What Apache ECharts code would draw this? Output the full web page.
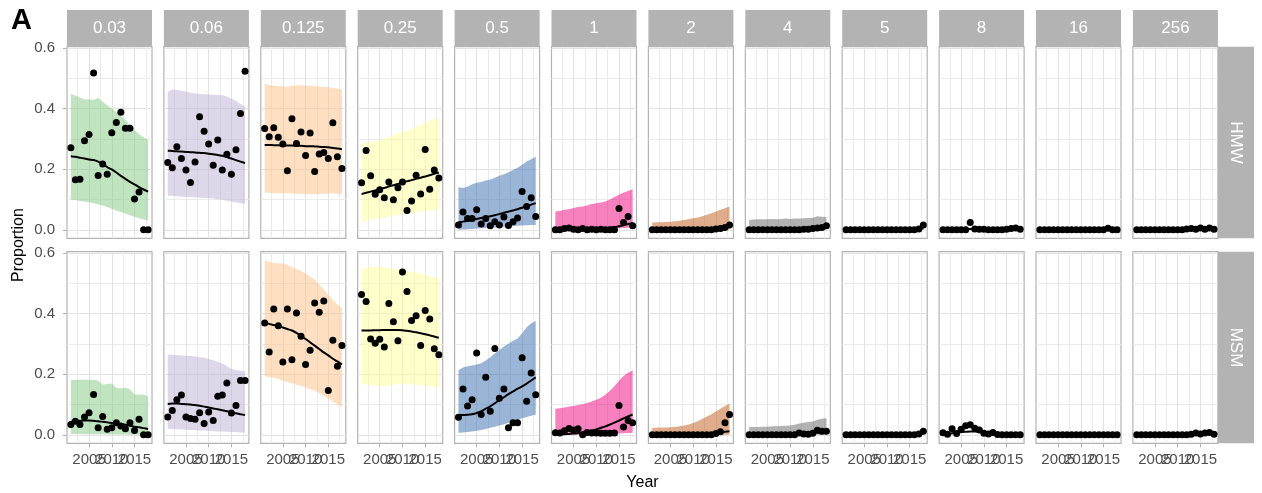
<!DOCTYPE html>
<html>
<head>
<meta charset="utf-8">
<script src="https://cdn.jsdelivr.net/npm/echarts@6/dist/echarts.min.js"></script>
<style>
  html, body { margin: 0; padding: 0; background: #ffffff; }
  #chart { width: 1262px; height: 493px; }
</style>
</head>
<body>
<div id="chart"></div>
<script>
// ---- categories and tick values ----
const YEARS = [2001, 2002, 2003, 2004, 2005, 2006, 2007, 2008, 2009, 2010, 2011, 2012, 2013, 2014, 2015, 2016, 2017, 2018];
const CONCENTRATIONS = ['0.03', '0.06', '0.125', '0.25', '0.5', '1', '2', '4', '5', '8', '16', '256'];
const GROUPS = ['HMW', 'MSM'];
const Y_TICKS = [0, 0.2, 0.4, 0.6];
const Y_MINOR = [0.1, 0.3, 0.5];
const X_TICKS = [2005, 2010, 2015];
const X_MINOR = [2002.5, 2007.5, 2012.5, 2017.5];
const RIBBON_COLORS = ['#7FC97F', '#BEAED4', '#FDC086', '#FFFF99', '#386CB0', '#F0027F', '#BF5B17', '#666666', null, null, null, null];

// ---- HMW: observed proportions, fitted trend, prediction band ----
const hmw003Pts = [0.271, 0.165, 0.167, 0.294, 0.314, 0.517, 0.179, 0.217, 0.183, 0.320, 0.354, 0.388, 0.335, 0.335, 0.102, 0.125, 0, 0];
const hmw003Fit = [0.243, 0.241, 0.238, 0.235, 0.232, 0.230, 0.225, 0.217, 0.207, 0.199, 0.189, 0.178, 0.168, 0.158, 0.150, 0.141, 0.133, 0.126];
const hmw003Lo  = [0.099, 0.098, 0.095, 0.093, 0.091, 0.088, 0.084, 0.080, 0.075, 0.069, 0.064, 0.059, 0.054, 0.048, 0.043, 0.038, 0.034, 0.030];
const hmw003Hi  = [0.448, 0.443, 0.436, 0.430, 0.431, 0.428, 0.436, 0.422, 0.411, 0.400, 0.389, 0.375, 0.362, 0.346, 0.329, 0.315, 0.305, 0.296];

const hmw006Pts = [0.222, 0.205, 0.274, 0.235, 0.197, 0.156, 0.224, 0.373, 0.325, 0.283, 0.213, 0.296, 0.197, 0.249, 0.183, 0.264, 0.384, 0.523];
const hmw006Fit = [0.261, 0.260, 0.259, 0.258, 0.257, 0.256, 0.255, 0.254, 0.253, 0.251, 0.249, 0.247, 0.244, 0.240, 0.235, 0.230, 0.225, 0.220];
const hmw006Lo  = [0.112, 0.112, 0.111, 0.110, 0.109, 0.108, 0.107, 0.106, 0.105, 0.104, 0.103, 0.101, 0.099, 0.096, 0.093, 0.090, 0.088, 0.086];
const hmw006Hi  = [0.455, 0.463, 0.461, 0.459, 0.456, 0.452, 0.450, 0.448, 0.447, 0.446, 0.445, 0.445, 0.444, 0.440, 0.432, 0.425, 0.415, 0.406];

const hmw0125Pts = [0.334, 0.307, 0.337, 0.305, 0.283, 0.195, 0.366, 0.285, 0.323, 0.245, 0.319, 0.192, 0.250, 0.255, 0.235, 0.353, 0.241, 0.202];
const hmw0125Fit = [0.280, 0.280, 0.279, 0.279, 0.278, 0.278, 0.278, 0.277, 0.277, 0.276, 0.276, 0.275, 0.274, 0.273, 0.272, 0.270, 0.268, 0.266];
const hmw0125Lo  = [0.123, 0.122, 0.121, 0.121, 0.121, 0.121, 0.120, 0.120, 0.119, 0.118, 0.117, 0.118, 0.118, 0.119, 0.120, 0.121, 0.119, 0.117];
const hmw0125Hi  = [0.483, 0.478, 0.476, 0.474, 0.473, 0.472, 0.475, 0.477, 0.477, 0.476, 0.475, 0.474, 0.473, 0.471, 0.470, 0.468, 0.466, 0.463];

const hmw025Pts = [0.155, 0.262, 0.178, 0.117, 0.132, 0.106, 0.158, 0.099, 0.139, 0.158, 0.064, 0.095, 0.180, 0.118, 0.265, 0.134, 0.197, 0.171];
const hmw025Fit = [0.118, 0.122, 0.126, 0.130, 0.134, 0.138, 0.143, 0.147, 0.151, 0.156, 0.160, 0.164, 0.168, 0.172, 0.176, 0.180, 0.185, 0.189];
const hmw025Lo  = [0.027, 0.030, 0.033, 0.036, 0.038, 0.041, 0.044, 0.046, 0.049, 0.052, 0.054, 0.056, 0.058, 0.060, 0.062, 0.064, 0.065, 0.066];
const hmw025Hi  = [0.285, 0.287, 0.290, 0.292, 0.295, 0.300, 0.305, 0.313, 0.320, 0.322, 0.326, 0.333, 0.340, 0.346, 0.352, 0.360, 0.365, 0.371];

const hmw05Pts = [0.016, 0.059, 0.037, 0.037, 0.066, 0.019, 0.037, 0.013, 0.027, 0.016, 0.042, 0.014, 0.027, 0.039, 0.126, 0.077, 0.106, 0.044];
const hmw05Fit = [0.024, 0.027, 0.030, 0.033, 0.036, 0.039, 0.042, 0.045, 0.048, 0.052, 0.056, 0.060, 0.064, 0.068, 0.073, 0.078, 0.083, 0.088];
const hmw05Lo  = [0.000, 0.001, 0.002, 0.003, 0.004, 0.005, 0.006, 0.007, 0.008, 0.009, 0.010, 0.011, 0.012, 0.013, 0.014, 0.015, 0.016, 0.016];
const hmw05Hi  = [0.140, 0.138, 0.142, 0.150, 0.155, 0.158, 0.163, 0.166, 0.172, 0.178, 0.183, 0.190, 0.197, 0.205, 0.215, 0.225, 0.233, 0.241];

const hmw1Pts = [0, 0, 0.004, 0.006, 0.002, 0, 0.004, 0, 0.002, 0, 0.002, 0, 0, 0, 0.070, 0.024, 0.044, 0.013];
const hmw1Fit = [0.002, 0.002, 0.002, 0.002, 0.002, 0.002, 0.003, 0.003, 0.004, 0.004, 0.005, 0.006, 0.007, 0.009, 0.012, 0.015, 0.019, 0.022];
const hmw1Lo  = [0, 0, 0, 0, 0, 0, 0, 0, 0.001, 0.001, 0.002, 0.002, 0.003, 0.004, 0.005, 0.006, 0.007, 0.008];
const hmw1Hi  = [0.060, 0.062, 0.066, 0.068, 0.072, 0.075, 0.077, 0.080, 0.085, 0.088, 0.090, 0.093, 0.100, 0.108, 0.116, 0.123, 0.128, 0.134];

const hmw2Pts = [0, 0, 0, 0, 0, 0, 0, 0, 0, 0, 0, 0, 0, 0, 0.003, 0.004, 0.008, 0.016];
const hmw2Fit = [0.001, 0.001, 0.001, 0.001, 0.001, 0.001, 0.001, 0.001, 0.002, 0.002, 0.002, 0.003, 0.003, 0.004, 0.005, 0.006, 0.008, 0.010];
const hmw2Lo  = [0, 0, 0, 0, 0, 0, 0, 0, 0, 0, 0, 0, 0, 0, 0, 0, 0, 0];
const hmw2Hi  = [0.024, 0.025, 0.025, 0.026, 0.027, 0.028, 0.030, 0.032, 0.035, 0.038, 0.041, 0.045, 0.050, 0.055, 0.060, 0.066, 0.071, 0.077];

const hmw4Pts = [0, 0, 0, 0, 0, 0, 0, 0, 0, 0, 0, 0, 0.002, 0.002, 0.004, 0.006, 0.008, 0.013];
const hmw4Fit = [0.002, 0.002, 0.002, 0.002, 0.002, 0.003, 0.003, 0.003, 0.003, 0.004, 0.004, 0.004, 0.005, 0.005, 0.006, 0.007, 0.008, 0.009];
const hmw4Lo  = [0, 0, 0, 0, 0, 0, 0, 0, 0, 0, 0, 0, 0, 0, 0, 0, 0, 0];
const hmw4Hi  = [0.032, 0.034, 0.035, 0.035, 0.035, 0.036, 0.035, 0.036, 0.037, 0.036, 0.037, 0.037, 0.038, 0.039, 0.040, 0.045, 0.043, 0.042];

const hmw5Pts = [0, 0, 0, 0, 0, 0, 0, 0, 0, 0, 0, 0, 0, 0, 0, 0, 0.003, 0.016];
const hmw5Fit = [0, 0, 0, 0, 0, 0, 0, 0, 0, 0, 0, 0, 0, 0, 0.001, 0.001, 0.002, 0.004];

const hmw8Pts = [0, 0, 0, 0, 0, 0, 0.024, 0.003, 0.002, 0.002, 0, 0, 0, 0, 0.002, 0.004, 0.006, 0.002];
const hmw8Fit = [0.001, 0.001, 0.002, 0.002, 0.003, 0.003, 0.003, 0.003, 0.003, 0.002, 0.002, 0.002, 0.002, 0.002, 0.002, 0.002, 0.002, 0.002];

const hmw16Pts = [0, 0, 0, 0, 0, 0, 0, 0, 0, 0, 0, 0, 0, 0, 0, 0.005, 0, 0];
const hmw16Fit = [0, 0, 0, 0, 0, 0, 0, 0, 0, 0, 0, 0, 0, 0, 0.001, 0.001, 0.001, 0.001];

const hmw256Pts = [0, 0, 0, 0, 0, 0, 0, 0, 0, 0, 0, 0.003, 0.004, 0.002, 0.006, 0.002, 0.006, 0.002];
const hmw256Fit = [0, 0, 0, 0, 0, 0, 0, 0.001, 0.001, 0.001, 0.002, 0.002, 0.002, 0.003, 0.003, 0.003, 0.004, 0.004];

// ---- MSM: observed proportions, fitted trend, prediction band ----
const msm003Pts = [0.034, 0.045, 0.034, 0.059, 0.073, 0.133, 0.023, 0.060, 0.018, 0.023, 0.040, 0.029, 0.020, 0.040, 0.014, 0.051, 0, 0];
const msm003Fit = [0.043, 0.045, 0.046, 0.047, 0.047, 0.046, 0.045, 0.043, 0.041, 0.039, 0.037, 0.035, 0.033, 0.030, 0.027, 0.025, 0.022, 0.019];
const msm003Lo  = [0.003, 0.003, 0.003, 0.002, 0.002, 0.002, 0.002, 0.002, 0.001, 0.001, 0.001, 0.001, 0.001, 0, 0, 0, 0, 0];
const msm003Hi  = [0.180, 0.181, 0.182, 0.182, 0.182, 0.182, 0.178, 0.166, 0.168, 0.169, 0.155, 0.153, 0.155, 0.150, 0.133, 0.133, 0.132, 0.127];

const msm006Pts = [0.059, 0.080, 0.116, 0.131, 0.059, 0.054, 0.051, 0.073, 0.037, 0.075, 0.047, 0.127, 0.131, 0.171, 0.072, 0.097, 0.179, 0.179];
const msm006Fit = [0.102, 0.103, 0.103, 0.102, 0.101, 0.100, 0.098, 0.096, 0.093, 0.090, 0.087, 0.084, 0.081, 0.078, 0.075, 0.071, 0.068, 0.065];
const msm006Lo  = [0.020, 0.019, 0.018, 0.018, 0.017, 0.016, 0.015, 0.014, 0.014, 0.013, 0.012, 0.011, 0.011, 0.010, 0.009, 0.009, 0.008, 0.007];
const msm006Hi  = [0.265, 0.264, 0.263, 0.262, 0.261, 0.260, 0.258, 0.256, 0.254, 0.250, 0.246, 0.240, 0.235, 0.226, 0.218, 0.213, 0.211, 0.210];

const msm0125Pts = [0.369, 0.273, 0.415, 0.360, 0.240, 0.415, 0.248, 0.402, 0.325, 0.232, 0.279, 0.435, 0.404, 0.441, 0.146, 0.312, 0.226, 0.295];
const msm0125Fit = [0.369, 0.366, 0.362, 0.359, 0.354, 0.349, 0.344, 0.336, 0.326, 0.316, 0.305, 0.294, 0.283, 0.272, 0.262, 0.251, 0.242, 0.232];
const msm0125Lo  = [0.193, 0.191, 0.188, 0.184, 0.178, 0.173, 0.170, 0.165, 0.161, 0.157, 0.150, 0.145, 0.138, 0.128, 0.120, 0.110, 0.100, 0.092];
const msm0125Hi  = [0.576, 0.570, 0.567, 0.566, 0.565, 0.560, 0.553, 0.547, 0.540, 0.532, 0.522, 0.512, 0.496, 0.480, 0.462, 0.445, 0.430, 0.419];

const msm025Pts = [0.463, 0.440, 0.316, 0.302, 0.315, 0.290, 0.433, 0.373, 0.310, 0.537, 0.473, 0.377, 0.393, 0.295, 0.410, 0.382, 0.284, 0.264];
const msm025Fit = [0.344, 0.344, 0.344, 0.345, 0.345, 0.346, 0.346, 0.346, 0.346, 0.345, 0.343, 0.341, 0.338, 0.335, 0.332, 0.328, 0.324, 0.320];
const msm025Lo  = [0.166, 0.165, 0.164, 0.162, 0.160, 0.160, 0.162, 0.165, 0.168, 0.169, 0.168, 0.166, 0.164, 0.163, 0.162, 0.160, 0.158, 0.155];
const msm025Hi  = [0.547, 0.550, 0.553, 0.555, 0.554, 0.552, 0.550, 0.548, 0.545, 0.542, 0.540, 0.538, 0.535, 0.532, 0.529, 0.525, 0.520, 0.514];

const msm05Pts = [0.058, 0.151, 0.095, 0.116, 0.270, 0.067, 0.190, 0.078, 0.285, 0.121, 0.151, 0.023, 0.040, 0.040, 0.254, 0.111, 0.204, 0.132];
const msm05Fit = [0.065, 0.065, 0.066, 0.068, 0.072, 0.078, 0.086, 0.094, 0.104, 0.114, 0.124, 0.134, 0.143, 0.152, 0.160, 0.169, 0.179, 0.190];
const msm05Lo  = [0.007, 0.008, 0.009, 0.011, 0.013, 0.016, 0.019, 0.023, 0.027, 0.031, 0.035, 0.040, 0.045, 0.050, 0.055, 0.059, 0.063, 0.067];
const msm05Hi  = [0.213, 0.222, 0.226, 0.229, 0.232, 0.236, 0.245, 0.256, 0.268, 0.280, 0.291, 0.300, 0.310, 0.318, 0.335, 0.355, 0.368, 0.375];

const msm1Pts = [0.007, 0.006, 0.013, 0.021, 0.016, 0.020, 0.000, 0.008, 0.006, 0.006, 0.005, 0.005, 0.005, 0.006, 0.097, 0.026, 0.047, 0.040];
const msm1Fit = [0.001, 0.001, 0.002, 0.003, 0.004, 0.006, 0.008, 0.011, 0.014, 0.018, 0.023, 0.028, 0.034, 0.040, 0.047, 0.054, 0.061, 0.067];
const msm1Lo  = [0, 0, 0, 0, 0, 0, 0, 0, 0, 0.001, 0.001, 0.002, 0.002, 0.003, 0.004, 0.005, 0.006, 0.007];
const msm1Hi  = [0.086, 0.088, 0.090, 0.093, 0.095, 0.098, 0.101, 0.105, 0.110, 0.116, 0.122, 0.132, 0.145, 0.160, 0.178, 0.194, 0.205, 0.212];

const msm2Pts = [0, 0, 0, 0, 0, 0, 0, 0, 0, 0, 0, 0, 0, 0, 0.004, 0.010, 0.040, 0.067];
const msm2Fit = [0.001, 0.001, 0.001, 0.001, 0.001, 0.001, 0.001, 0.001, 0.001, 0.002, 0.002, 0.003, 0.004, 0.005, 0.006, 0.008, 0.010, 0.012];
const msm2Lo  = [0, 0, 0, 0, 0, 0, 0, 0, 0, 0, 0, 0, 0, 0, 0, 0, 0, 0];
const msm2Hi  = [0.023, 0.023, 0.024, 0.024, 0.025, 0.026, 0.028, 0.031, 0.034, 0.039, 0.045, 0.052, 0.060, 0.068, 0.077, 0.086, 0.095, 0.103];

const msm4Pts = [0, 0, 0, 0, 0, 0, 0, 0, 0, 0, 0, 0.006, 0.003, 0.002, 0.005, 0.015, 0.012, 0.012];
const msm4Fit = [0.002, 0.002, 0.002, 0.002, 0.003, 0.003, 0.003, 0.004, 0.004, 0.004, 0.005, 0.005, 0.006, 0.006, 0.007, 0.008, 0.009, 0.010];
const msm4Lo  = [0, 0, 0, 0, 0, 0, 0, 0, 0, 0, 0, 0, 0, 0, 0, 0, 0, 0];
const msm4Hi  = [0.026, 0.026, 0.026, 0.027, 0.027, 0.028, 0.028, 0.029, 0.030, 0.031, 0.033, 0.037, 0.040, 0.042, 0.044, 0.050, 0.053, 0.055];

const msm5Pts = [0, 0, 0, 0, 0, 0, 0, 0, 0, 0, 0, 0, 0, 0, 0, 0, 0.003, 0.012];
const msm5Fit = [0, 0, 0, 0, 0, 0, 0, 0, 0, 0, 0, 0, 0, 0, 0.001, 0.001, 0.002, 0.003];

const msm8Pts = [0.007, 0.002, 0.020, 0.004, 0.018, 0.030, 0.033, 0.022, 0.016, 0.005, 0.003, 0.008, 0.001, 0, 0, 0, 0, 0];
const msm8Fit = [0.002, 0.003, 0.005, 0.007, 0.009, 0.010, 0.011, 0.011, 0.010, 0.008, 0.006, 0.004, 0.003, 0.002, 0.001, 0.001, 0.001, 0.001];

const msm16Pts = [0, 0, 0, 0, 0, 0, 0, 0, 0, 0, 0, 0, 0, 0, 0, 0, 0, 0];
const msm16Fit = [0, 0, 0, 0, 0, 0, 0, 0, 0, 0, 0, 0, 0, 0, 0, 0, 0, 0];

const msm256Pts = [0, 0, 0, 0, 0, 0, 0, 0, 0, 0, 0, 0, 0.002, 0.006, 0.003, 0.006, 0.008, 0.002];
const msm256Fit = [0, 0, 0, 0, 0, 0, 0, 0, 0.001, 0.001, 0.001, 0.002, 0.002, 0.003, 0.003, 0.003, 0.004, 0.004];

// Panel table: [points, fitted trend, band low, band high] per concentration
const PANEL_DATA = {
  HMW: [
    [hmw003Pts, hmw003Fit, hmw003Lo, hmw003Hi],
    [hmw006Pts, hmw006Fit, hmw006Lo, hmw006Hi],
    [hmw0125Pts, hmw0125Fit, hmw0125Lo, hmw0125Hi],
    [hmw025Pts, hmw025Fit, hmw025Lo, hmw025Hi],
    [hmw05Pts, hmw05Fit, hmw05Lo, hmw05Hi],
    [hmw1Pts, hmw1Fit, hmw1Lo, hmw1Hi],
    [hmw2Pts, hmw2Fit, hmw2Lo, hmw2Hi],
    [hmw4Pts, hmw4Fit, hmw4Lo, hmw4Hi],
    [hmw5Pts, hmw5Fit, null, null],
    [hmw8Pts, hmw8Fit, null, null],
    [hmw16Pts, hmw16Fit, null, null],
    [hmw256Pts, hmw256Fit, null, null]
  ],
  MSM: [
    [msm003Pts, msm003Fit, msm003Lo, msm003Hi],
    [msm006Pts, msm006Fit, msm006Lo, msm006Hi],
    [msm0125Pts, msm0125Fit, msm0125Lo, msm0125Hi],
    [msm025Pts, msm025Fit, msm025Lo, msm025Hi],
    [msm05Pts, msm05Fit, msm05Lo, msm05Hi],
    [msm1Pts, msm1Fit, msm1Lo, msm1Hi],
    [msm2Pts, msm2Fit, msm2Lo, msm2Hi],
    [msm4Pts, msm4Fit, msm4Lo, msm4Hi],
    [msm5Pts, msm5Fit, null, null],
    [msm8Pts, msm8Fit, null, null],
    [msm16Pts, msm16Fit, null, null],
    [msm256Pts, msm256Fit, null, null]
  ]
};

// ---- layout ----
const PANEL_LEFT = 67, PANEL_STEP = 96.9, PANEL_W = 85;
const ROW_TOP = [46.7, 251.7], PANEL_H = 191.6;
const STRIP_TOP = 10;
const RIGHT_STRIP_X = 1218, RIGHT_STRIP_W = 36;
const X_MIN = 2000.15, X_MAX = 2018.85, Y_MIN = -0.028, Y_MAX = 0.604;

const FONT = '"Liberation Sans", Arial, Helvetica, sans-serif';
const BORDER = '#B3B3B3';
const GRID_MAJOR = '#E2E2E2';
const GRID_MINOR = '#EBEBEB';
const TICK_TEXT = '#4D4D4D';

function withAlpha(hex, a) {
  const n = parseInt(hex.slice(1), 16);
  return 'rgba(' + ((n >> 16) & 255) + ',' + ((n >> 8) & 255) + ',' + (n & 255) + ',' + a + ')';
}

// Major x axis: ticks and major grid lines (labels live on their own axes
// so the three overlapping year labels are all kept)
function mainXAxis(gridIndex, showTicks) {
  return {
    type: 'value', gridIndex, min: X_MIN, max: X_MAX, position: 'bottom',
    axisLine: { show: false, onZero: false },
    axisTick: { show: showTicks, customValues: X_TICKS, length: 4, lineStyle: { color: BORDER, width: 1 } },
    axisLabel: { show: false },
    splitLine: { show: true, lineStyle: { color: GRID_MAJOR, width: 1 } }
  };
}
function xLabelAxis(gridIndex, year) {
  return {
    type: 'value', gridIndex, min: X_MIN, max: X_MAX, position: 'bottom',
    axisLine: { show: false, onZero: false },
    axisTick: { show: false, customValues: [year] },
    axisLabel: {
      show: true, customValues: [year], hideOverlap: false,
      showMinLabel: true, showMaxLabel: true, margin: 9,
      color: TICK_TEXT, fontSize: 15, fontFamily: FONT,
      formatter: v => String(v)
    },
    splitLine: { show: false }
  };
}
function minorXAxis(gridIndex) {
  return {
    type: 'value', gridIndex, min: X_MIN, max: X_MAX, position: 'top',
    axisLine: { show: false, onZero: false },
    axisTick: { show: false, customValues: X_MINOR },
    axisLabel: { show: false, customValues: X_MINOR },
    splitLine: { show: true, lineStyle: { color: GRID_MINOR, width: 1 } }
  };
}
function mainYAxis(gridIndex, showLabels) {
  return {
    type: 'value', gridIndex, min: Y_MIN, max: Y_MAX, position: 'left',
    axisLine: { show: false, onZero: false },
    axisTick: { show: showLabels, customValues: Y_TICKS, length: 4, lineStyle: { color: BORDER, width: 1 } },
    axisLabel: {
      show: showLabels, customValues: Y_TICKS, hideOverlap: false,
      showMinLabel: true, showMaxLabel: true, margin: 12,
      color: TICK_TEXT, fontSize: 15, fontFamily: FONT,
      formatter: v => v.toFixed(1)
    },
    splitLine: { show: true, lineStyle: { color: GRID_MAJOR, width: 1 } }
  };
}
function minorYAxis(gridIndex) {
  return {
    type: 'value', gridIndex, min: Y_MIN, max: Y_MAX, position: 'right',
    axisLine: { show: false, onZero: false },
    axisTick: { show: false, customValues: Y_MINOR },
    axisLabel: { show: false, customValues: Y_MINOR },
    splitLine: { show: true, lineStyle: { color: GRID_MINOR, width: 1 } }
  };
}

// Prediction band drawn as one polygon through the axis scales
function bandSeries(xIndex, yIndex, lo, hi, color) {
  return {
    type: 'custom', xAxisIndex: xIndex, yAxisIndex: yIndex, silent: true, z: 1,
    data: YEARS.map((yr, i) => [yr, lo[i], hi[i]]),
    encode: { x: 0, y: [1, 2] },
    renderItem: (params, api) => {
      if (params.dataIndex !== 0) return null;
      const upper = YEARS.map((yr, i) => api.coord([yr, hi[i]]));
      const lower = YEARS.map((yr, i) => api.coord([yr, lo[i]])).reverse();
      return {
        type: 'polygon',
        shape: { points: upper.concat(lower) },
        style: { fill: withAlpha(color, 0.5), stroke: null }
      };
    }
  };
}

const option = {
  animation: false,
  backgroundColor: '#ffffff',
  grid: [], xAxis: [], yAxis: [], series: [], graphic: []
};

GROUPS.forEach((group, r) => {
  const bottomRow = r === GROUPS.length - 1;
  CONCENTRATIONS.forEach((conc, c) => {
    const g = r * CONCENTRATIONS.length + c;
    option.grid.push({
      left: PANEL_LEFT + c * PANEL_STEP, top: ROW_TOP[r], width: PANEL_W, height: PANEL_H,
      show: true, backgroundColor: '#ffffff', borderColor: BORDER, borderWidth: 1.2,
      containLabel: false, outerBoundsMode: 'none'
    });
    const xi = option.xAxis.length;
    option.xAxis.push(mainXAxis(g, bottomRow), minorXAxis(g));
    if (bottomRow) X_TICKS.forEach(yr => option.xAxis.push(xLabelAxis(g, yr)));
    const yi = option.yAxis.length;
    option.yAxis.push(mainYAxis(g, c === 0), minorYAxis(g));

    const [pts, fit, lo, hi] = PANEL_DATA[group][c];
    if (lo && hi) option.series.push(bandSeries(xi, yi, lo, hi, RIBBON_COLORS[c]));
    option.series.push({
      type: 'scatter', xAxisIndex: xi, yAxisIndex: yi, silent: true, z: 3,
      data: YEARS.map((yr, i) => [yr, pts[i]]),
      symbol: 'circle', symbolSize: 7,
      itemStyle: { color: '#000000', opacity: 1 }
    });
    option.series.push({
      type: 'line', xAxisIndex: xi, yAxisIndex: yi, silent: true, z: 4,
      data: YEARS.map((yr, i) => [yr, fit[i]]),
      symbol: 'none', showSymbol: false, smooth: 0.2,
      lineStyle: { color: '#000000', width: 2, opacity: 1 }
    });
  });
});

// Facet strips: concentrations on top, groups on the right
CONCENTRATIONS.forEach((conc, c) => {
  const x = PANEL_LEFT + c * PANEL_STEP;
  option.graphic.push({
    type: 'rect', silent: true,
    shape: { x: x, y: STRIP_TOP, width: PANEL_W, height: ROW_TOP[0] - STRIP_TOP },
    style: { fill: BORDER }
  });
  option.graphic.push({
    type: 'text', silent: true, x: x + PANEL_W / 2, y: (STRIP_TOP + ROW_TOP[0]) / 2,
    style: { text: conc, fill: '#ffffff', font: '17px ' + FONT, align: 'center', verticalAlign: 'middle', textAlign: 'center', textVerticalAlign: 'middle' }
  });
});
GROUPS.forEach((group, r) => {
  option.graphic.push({
    type: 'rect', silent: true,
    shape: { x: RIGHT_STRIP_X, y: ROW_TOP[r], width: RIGHT_STRIP_W, height: PANEL_H },
    style: { fill: BORDER }
  });
  option.graphic.push({
    type: 'text', silent: true, x: RIGHT_STRIP_X + RIGHT_STRIP_W / 2, y: ROW_TOP[r] + PANEL_H / 2,
    rotation: -Math.PI / 2,
    style: { text: group, fill: '#ffffff', font: '17px ' + FONT, align: 'center', verticalAlign: 'middle', textAlign: 'center', textVerticalAlign: 'middle' }
  });
});

// Axis titles and panel tag
option.graphic.push({
  type: 'text', silent: true, x: 19, y: (ROW_TOP[0] + ROW_TOP[1] + PANEL_H) / 2,
  rotation: Math.PI / 2,
  style: { text: 'Proportion', fill: '#000000', font: '16px ' + FONT, align: 'center', verticalAlign: 'middle', textAlign: 'center', textVerticalAlign: 'middle' }
});
option.graphic.push({
  type: 'text', silent: true,
  x: PANEL_LEFT + (11 * PANEL_STEP + PANEL_W) / 2, y: 482.5,
  style: { text: 'Year', fill: '#000000', font: '16px ' + FONT, align: 'center', verticalAlign: 'middle', textAlign: 'center', textVerticalAlign: 'middle' }
});
option.graphic.push({
  type: 'text', silent: true, x: 11, y: 21,
  style: { text: 'A', fill: '#000000', font: 'bold 29px ' + FONT, align: 'left', verticalAlign: 'middle', textAlign: 'left', textVerticalAlign: 'middle' }
});

const chart = echarts.init(document.getElementById('chart'), null, { renderer: 'canvas' });
chart.setOption(option);
</script>
</body>
</html>
